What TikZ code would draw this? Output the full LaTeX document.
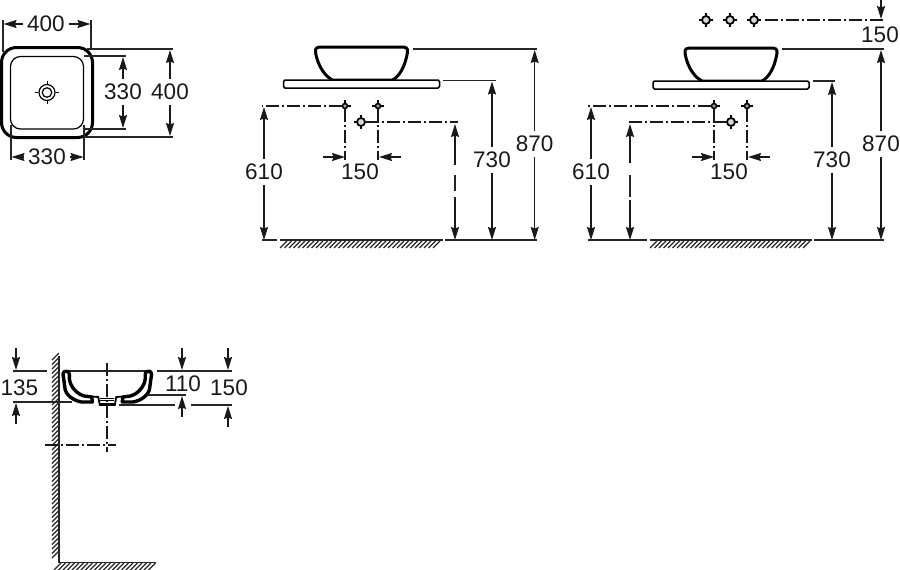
\documentclass[tikz,border=0pt]{standalone}
\usepackage{fontspec}
\setmainfont{Liberation Sans}
\usetikzlibrary{arrows.meta}
\tikzset{dimlabel/.style={inner xsep=4pt,inner ysep=5pt,outer sep=0pt,font=\fontsize{22.5}{22.5}\selectfont,text=black!90}}
\tikzset{extline/.style={draw=black!85,line width=1.2pt}}
\tikzset{dimarrow/.style={draw=black!90,line width=1.2pt,->}}
\tikzset{axisline/.style={draw=black!90,line width=1.2pt,dash pattern=on 13pt off 3pt on 2pt off 3pt}}
\tikzset{hatchline/.style={draw=black!85,line width=1.1pt}}
\tikzset{tapsmall/.style={circle,draw=black,line width=1.6pt,fill=black!35,inner sep=0pt,minimum size=5pt}}
\tikzset{tapbig/.style={circle,draw=black,line width=1.8pt,fill=black!15,inner sep=0pt,minimum size=8pt}}
\tikzset{basinfront/.pic={
    \draw[line width=3pt,fill=white] (-39,-33) -- (39,-33) .. controls (45,-33) and (46.5,-32) .. (46,-28) .. controls (43.5,-12) and (37,-3) .. (31,0) -- (-29,0) .. controls (-35,-3) and (-43.5,-12) .. (-46,-28) .. controls (-46.5,-32) and (-45,-33) .. (-39,-33) -- cycle;
    \draw[line width=1.5pt,fill=white,rounded corners=1.5pt] (-78,0) rectangle (78,8);
}}
\tikzset{sectionhalf/.pic={
    \draw[line width=3.4pt,fill=white,line join=round] (-44.3,3) .. controls (-44.3,-0.8) and (-38,-0.8) .. (-38,3) .. controls (-38.5,10) and (-37,15) .. (-30.6,21) .. controls (-27,24) and (-23,25.5) .. (-19,25.5) -- (-15.5,26) -- (-15,31) -- (-25.6,31) .. controls (-33,30) and (-42.5,24) .. (-42.5,16) -- cycle;
    \draw[line width=1.8pt] (-15.5,25.5) -- (-9,26) -- (-7.5,34) -- (0,34);
    \foreach \ly in {27,29.5,32} \draw[line width=0.9pt] (-7,\ly) -- (0,\ly);
}}
\newcommand{\tapmark}[3]{
    \node[#1] (#2) at (#3) {};
    \draw[line width=1.3pt] (#2.west) -- ++(-2.5,0) (#2.east) -- ++(2.5,0) (#2.north) -- ++(0,-2.5) (#2.south) -- ++(0,2.5);
}
\begin{document}
\begin{tikzpicture}[x=1pt,y=-1pt,>={Stealth[length=13pt,width=8pt,inset=1.5pt]}]
    \useasboundingbox (0,0) rectangle (900,570);

    % plan view
    \draw[line width=3pt,rounded corners=15pt] (1.5,47.5) rectangle (92.5,137.5);
    \draw[line width=1.2pt,rounded corners=10pt] (10.5,56.5) rectangle (83.5,129);
    \node[circle,draw,line width=1.2pt,minimum size=16pt,inner sep=0pt] (drainouter) at (47,92.5) {};
    \node[circle,draw,line width=1.2pt,minimum size=9.5pt,inner sep=0pt] (draininner) at (47,92.5) {};
    \draw[line width=1pt] (drainouter.west) -- ++(-3,0) (drainouter.east) -- ++(3,0) (drainouter.north) -- ++(0,-3) (drainouter.south) -- ++(0,3);

    \draw[extline] (3,20) -- (3,52);
    \draw[extline] (91,20) -- (91,50);
    \draw[extline] (87,49) -- (173,49);
    \draw[extline] (85,137) -- (173,137);
    \draw[extline] (84,56) -- (126,56);
    \draw[extline] (84,129) -- (126,129);
    \draw[extline] (11,125) -- (11,160);
    \draw[extline] (84,125) -- (84,160);

    \node[dimlabel] (planwidth) at (46,24) {400};
    \draw[dimarrow] (planwidth) -- (3.5,24);
    \draw[dimarrow] (planwidth) -- (90.5,24);
    \node[dimlabel] (bowlwidth) at (47,157) {330};
    \draw[dimarrow] (bowlwidth) -- (11.5,157);
    \draw[dimarrow] (bowlwidth) -- (83.5,157);
    \node[dimlabel] (bowldepth) at (123,92) {330};
    \draw[dimarrow] (bowldepth) -- (123,57);
    \draw[dimarrow] (bowldepth) -- (123,128);
    \node[dimlabel] (plandepth) at (170,92) {400};
    \draw[dimarrow] (plandepth) -- (170,50);
    \draw[dimarrow] (plandepth) -- (170,136);

    % front view, one tap hole
    \pic at (361.5,80) {basinfront};
    \draw[extline] (413,49) -- (537,49);
    \draw[extline] (443,80.5) -- (496,80.5);
    \draw[extline] (262,240) -- (277,240);
    \draw[extline] (280,240) -- (443,240);
    \draw[extline] (445,240) -- (537,240);
    \foreach \hx in {280,284.5,...,436} \draw[hatchline] (\hx,248) -- ++(7,-7);

    \node[dimlabel] (topa) at (534.7,144) {870};
    \draw[dimarrow] (topa) -- (534.7,50);
    \draw[dimarrow] (topa) -- (534.7,240);
    \node[dimlabel] (slaba) at (492,160) {730};
    \draw[dimarrow] (slaba) -- (492,81.5);
    \draw[dimarrow] (slaba) -- (492,240);
    \node[dimlabel] (valvea) at (264,172) {610};
    \draw[dimarrow] (valvea) -- (264,107);
    \draw[dimarrow] (valvea) -- (264,240);
    \node[dimlabel] (pitcha) at (360,172) {150};

    \tapmark{tapsmall}{holeal}{345,106}
    \tapmark{tapsmall}{holear}{378,106}
    \tapmark{tapbig}{spouta}{361,122}
    \coordinate (valveaend) at (262,106);
    \coordinate (spoutaend) at (458,122);
    \draw[axisline] (holeal.west) -- (valveaend);
    \draw[axisline] (holeal.south) -- (345,160);
    \draw[axisline] (holear.south) -- (378,160);
    \draw[axisline] (spouta.east) -- (spoutaend);
    \draw[dimarrow] (323,157) -- (345,157);
    \draw[dimarrow] (401,157) -- (379,157);
    \draw[dimarrow] (455,197) -- (455,240);
    \draw[dimarrow] (455,165) -- (455,124);
    \draw[extline,line width=1.5pt] (455,175) -- (455,191);

    % front view, wall mounted taps
    \pic at (731,81) {basinfront};
    \draw[extline] (782,49) -- (884,49);
    \draw[extline] (813,81) -- (835,81);
    \draw[extline] (588,240) -- (647,240);
    \draw[extline] (650,240) -- (812,240);
    \draw[extline] (814,240) -- (884,240);
    \foreach \hx in {650,654.5,...,806} \draw[hatchline] (\hx,248) -- ++(7,-7);

    \node[dimlabel] (topb) at (881,144) {870};
    \draw[dimarrow] (topb) -- (881,50);
    \draw[dimarrow] (topb) -- (881,240);
    \node[dimlabel] (slabb) at (832,160) {730};
    \draw[dimarrow] (slabb) -- (832,82);
    \draw[dimarrow] (slabb) -- (832,240);
    \node[dimlabel] (valveb) at (591,172) {610};
    \draw[dimarrow] (valveb) -- (591,107);
    \draw[dimarrow] (valveb) -- (591,240);
    \node[dimlabel] (pitchb) at (729,172) {150};
    \node[dimlabel] (wallpitch) at (880,35) {150};

    \tapmark{tapbig}{wallta}{706,20}
    \tapmark{tapbig}{walltb}{730,20}
    \tapmark{tapbig}{walltc}{754,20}
    \coordinate (walltend) at (884,20);
    \coordinate (walltop) at (881,0);
    \draw[axisline] (walltc.east) ++(6,0) -- (walltend);
    \draw[dimarrow] (walltop) -- (881,19);

    \tapmark{tapsmall}{holebl}{714,106}
    \tapmark{tapsmall}{holebr}{747,106}
    \tapmark{tapbig}{spoutb}{731,122}
    \coordinate (valvebend) at (588,106);
    \coordinate (spoutbend) at (627,122);
    \draw[axisline] (holebl.west) -- (valvebend);
    \draw[axisline] (holebl.south) -- (714,160);
    \draw[axisline] (holebr.south) -- (747,160);
    \draw[axisline] (spoutb.west) -- (spoutbend);
    \draw[dimarrow] (692,157) -- (714,157);
    \draw[dimarrow] (770,157) -- (748,157);
    \draw[dimarrow] (630,200) -- (630,240);
    \draw[dimarrow] (630,163) -- (630,124);
    \draw[extline,line width=1.5pt] (630,175) -- (630,197);

    % section on the wall
    \draw[extline,line width=1.6pt] (59,356) -- (59,562.5) -- (156,562.5);
    \foreach \hy in {360,364.5,...,560} \draw[hatchline] (52,\hy) -- ++(7,-7);
    \foreach \hx in {54,58.5,...,150} \draw[hatchline] (\hx,570) -- ++(7,-7);

    \draw[axisline] (107,363) -- (107,452);
    \draw[axisline] (45,445) -- (116,445);
    \draw[extline] (66,371) -- (149,371);
    \pic at (107.3,371) {sectionhalf};
    \pic[xscale=-1] at (107.3,371) {sectionhalf};

    \draw[extline] (13,371) -- (47,371);
    \draw[extline] (13,402) -- (72,402);
    \draw[extline] (157,371) -- (232,371);
    \draw[extline] (147,395) -- (186,395);
    \draw[extline] (119,405) -- (175,405);
    \draw[extline] (191,405) -- (232,405);

    \node[dimlabel] (rimwall) at (19.5,388) {135};
    \draw[dimarrow] (16,348) -- (16,370);
    \draw[dimarrow] (16,424) -- (16,403);
    \node[dimlabel] (rimflat) at (183,384) {110};
    \draw[dimarrow] (182,348) -- (182,370);
    \draw[dimarrow] (182,417) -- (182,396);
    \node[dimlabel] (rimdrain) at (229,388) {150};
    \draw[dimarrow] (228,348) -- (228,370);
    \draw[dimarrow] (228,427) -- (228,406);
\end{tikzpicture}
\end{document}
